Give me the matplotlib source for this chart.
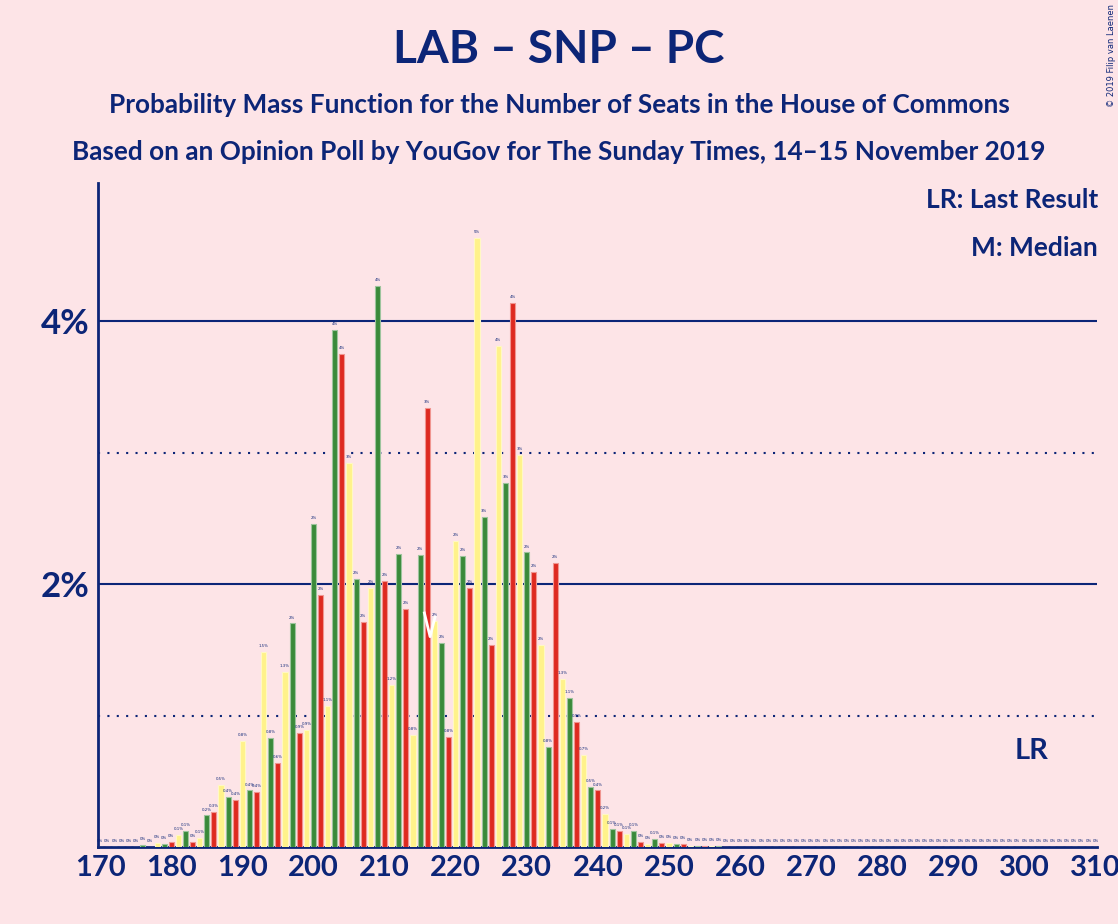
import matplotlib
matplotlib.use("Agg")
import matplotlib.pyplot as plt
import numpy as np

seats = list(range(170, 311))
known = {
    176: 0.013, 178: 0.03, 179: 0.02, 180: 0.035, 181: 0.09, 182: 0.12, 183: 0.035, 184: 0.07,
    185: 0.24, 186: 0.27, 187: 0.47, 188: 0.38, 189: 0.36, 190: 0.81, 191: 0.43, 192: 0.42,
    193: 1.48, 194: 0.83, 195: 0.64, 196: 1.33, 197: 1.70, 198: 0.87, 199: 0.89, 200: 2.46,
    201: 1.92, 202: 1.07, 203: 3.93, 204: 3.75, 205: 2.92, 206: 2.04, 207: 1.71, 208: 1.97,
    209: 4.27, 210: 2.02, 211: 1.23, 212: 2.23, 213: 1.81, 214: 0.85, 215: 2.22, 216: 3.34,
    217: 1.72, 218: 1.55, 219: 0.84, 220: 2.33, 221: 2.21, 222: 1.97, 223: 4.63, 224: 2.51,
    225: 1.54, 226: 3.81, 227: 2.77, 228: 4.14, 229: 2.98, 230: 2.24, 231: 2.09, 232: 1.54,
    233: 0.76, 234: 2.16, 235: 1.28, 236: 1.13, 237: 0.95, 238: 0.70, 239: 0.46, 240: 0.43,
    241: 0.25, 242: 0.14, 243: 0.12, 244: 0.10, 245: 0.12, 246: 0.04, 247: 0.02, 248: 0.06,
    249: 0.03, 250: 0.03, 251: 0.02, 252: 0.02, 253: 0.01, 254: 0.005, 255: 0.01, 256: 0.005,
    257: 0.01,
}
probs = [known.get(s, 0.0) for s in seats]
last_result = 301
median_seat = 216.5
xticks = list(range(170, 311, 10))

bg = "#FDE4E7"
navy = "#0C2577"
cols = {2: "#3A8A3A", 0: "#DE2A20", 1: "#FFF28A"}
edges = {2: "#9DC49D", 0: "#F09590", 1: "#FFF8C4"}

fig = plt.figure(figsize=(11.18, 9.24), dpi=100, facecolor=bg)
ax = fig.add_axes([0.0877, 0.0833, 0.8935, 0.7187], facecolor=bg)

for s, p in zip(seats, probs):
    k = s % 3
    ax.bar(s, p, width=0.72, color=cols[k], edgecolor=edges[k], linewidth=0.8, zorder=3)
    if p < 0.005:
        lab = "0%"
    elif p < 1.5:
        lab = f"{p:.1f}%"
        if lab == "0.0%":
            lab = "0%"
    else:
        lab = f"{p:.0f}%"
    ax.text(s, p + 0.03, lab, ha="center", va="bottom", fontsize=2.8, color=navy, zorder=4)

for y in (2, 4):
    ax.axhline(y, color=navy, lw=1.5, zorder=2)
for y in (1, 3):
    ax.axhline(y, color=navy, lw=1.5, ls=(0, (1, 3.5)), zorder=2)

# median marker
ax.plot([median_seat - 0.9, median_seat - 0.1, median_seat + 0.6],
        [1.78, 1.6, 1.75], color="white", lw=2, zorder=5)

ax.text(last_result, 0.73, "LR", ha="center", va="center", fontsize=21,
        fontweight="bold", color=navy, family="Lato")

ax.set_xlim(169.7, 310.2)
ax.set_ylim(0, 5.05)
ax.set_xticks(xticks)
ax.set_xticklabels([str(x) for x in xticks], fontsize=21, fontweight="bold", color=navy, family="Lato")
ax.set_yticks([2, 4])
ax.set_yticklabels(["2%", "4%"], fontsize=25, fontweight="bold", color=navy, family="Lato")
ax.tick_params(length=0, pad=6)
for sp in ("top", "right"):
    ax.spines[sp].set_visible(False)
ax.spines["left"].set_color(navy)
ax.spines["bottom"].set_color(navy)
ax.spines["left"].set_linewidth(2)
ax.spines["bottom"].set_linewidth(2)

fig.text(0.5, 0.946, "LAB – SNP – PC", ha="center", va="center", fontsize=33,
         fontweight="bold", color=navy, family="Lato")
fig.text(0.5, 0.886, "Probability Mass Function for the Number of Seats in the House of Commons",
         ha="center", va="center", fontsize=18.8, fontweight="bold", color=navy, family="Lato")
fig.text(0.5, 0.835, "Based on an Opinion Poll by YouGov for The Sunday Times, 14–15 November 2019",
         ha="center", va="center", fontsize=18.8, fontweight="bold", color=navy, family="Lato")
fig.text(0.982, 0.784, "LR: Last Result", ha="right", va="center", fontsize=19,
         fontweight="bold", color=navy, family="Lato")
fig.text(0.982, 0.732, "M: Median", ha="right", va="center", fontsize=19,
         fontweight="bold", color=navy, family="Lato")
fig.text(0.994, 0.94, "© 2019 Filip van Laenen", rotation=90, ha="center", va="center",
         fontsize=6, color=navy)

fig.savefig("out.png", dpi=100, facecolor=bg)
